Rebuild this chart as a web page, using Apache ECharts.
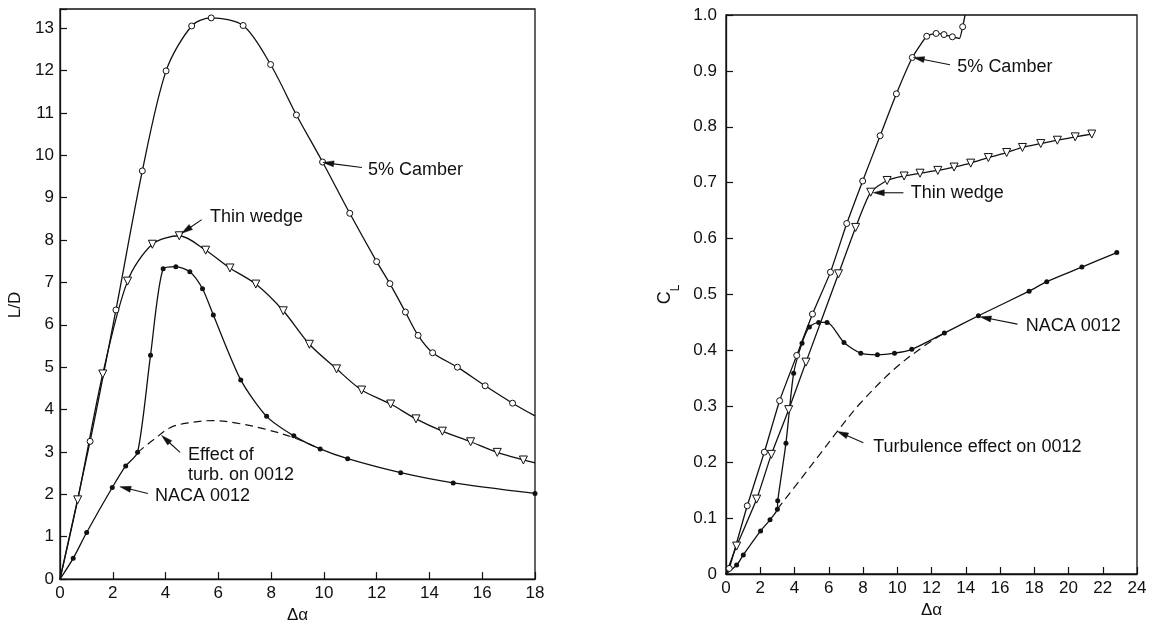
<!DOCTYPE html>
<html>
<head>
<meta charset="utf-8">
<script src="https://cdn.jsdelivr.net/npm/echarts@6/dist/echarts.min.js"></script>
<style>
html,body{margin:0;padding:0;background:#fff;}
#c{width:1155px;height:629px;}
</style>
</head>
<body>
<div id="c"></div>
<script>
// ---------- DATA ----------
// Left panel: L/D vs Δα
const ldXTicks = [0, 2, 4, 6, 8, 10, 12, 14, 16, 18];
const ldYTicks = [0, 1, 2, 3, 4, 5, 6, 7, 8, 9, 10, 11, 12, 13];
const camberLD = [[1.14,3.25],[2.12,6.35],[3.12,9.63],[4.02,11.99],[4.99,13.05],[5.73,13.24],[6.94,13.06],[7.98,12.14],[8.96,10.95],[9.95,9.84],[10.98,8.63],[12.0,7.49],[12.5,6.97],[13.09,6.30],[13.57,5.75],[14.12,5.34],[15.06,5.0],[16.11,4.56],[17.15,4.15]];
const camberLDEnds = [[0,0],[18,3.85]];
const wedgeLD = [[0.67,1.87],[1.62,4.84],[2.56,7.03],[3.5,7.9],[4.52,8.10],[5.52,7.76],[6.44,7.34],[7.42,6.96],[8.46,6.33],[9.45,5.54],[10.48,4.96],[11.43,4.46],[12.53,4.13],[13.49,3.78],[14.49,3.49],[15.56,3.24],[16.57,2.99],[17.56,2.81]];
const wedgeLDEnds = [[0,0],[18,2.74]];
const nacaLD = [[0.5,0.49],[1.01,1.10],[1.98,2.16],[2.49,2.67],[2.94,2.99],[3.43,5.28],[3.91,7.32],[4.39,7.37],[4.92,7.25],[5.4,6.85],[5.81,6.23],[6.85,4.70],[7.83,3.84],[8.86,3.38],[9.86,3.07],[10.9,2.84],[12.91,2.51],[14.9,2.27],[18.0,2.02]];
const nacaLDEnds = [[0,0]];
const turbLD = [[2.94,2.99],[3.53,3.28],[4.17,3.57],[4.8,3.68],[5.81,3.74],[6.69,3.68],[7.7,3.55],[8.84,3.34],[9.86,3.07]];

// Right panel: C_L vs Δα
const clXTicks = [0, 2, 4, 6, 8, 10, 12, 14, 16, 18, 20, 22, 24];
const clYTicks = [0, 0.1, 0.2, 0.3, 0.4, 0.5, 0.6, 0.7, 0.8, 0.9, 1.0];
const camberCL = [[0.19,0.010],[1.24,0.122],[2.24,0.218],[3.13,0.310],[4.13,0.391],[5.05,0.465],[6.1,0.54],[7.05,0.627],[7.98,0.703],[9.0,0.784],[9.95,0.859],[10.88,0.924],[11.72,0.962],[12.27,0.967],[12.73,0.965],[13.22,0.961],[13.82,0.979]];
const camberCLEnds = [[0,0],[13.63,0.958],[13.96,1.0]];
const wedgeCL = [[0.62,0.05],[1.79,0.134],[2.65,0.214],[3.66,0.294],[4.67,0.379],[6.57,0.537],[7.57,0.620],[8.45,0.683],[9.41,0.704],[10.4,0.712],[11.33,0.717],[12.37,0.722],[13.32,0.728],[14.29,0.735],[15.32,0.745],[16.39,0.754],[17.31,0.763],[18.38,0.770],[19.35,0.776],[20.39,0.782],[21.36,0.787]];
const wedgeCLEnds = [[0,0]];
const nacaCL = [[0.62,0.016],[1.01,0.034],[2.02,0.077],[2.57,0.097],[3.0,0.116],[3.02,0.131],[3.5,0.234],[3.95,0.359],[4.44,0.413],[4.87,0.442],[5.41,0.450],[5.9,0.450],[6.89,0.414],[7.87,0.395],[8.84,0.392],[9.84,0.395],[10.85,0.402],[12.75,0.431],[14.74,0.462],[17.7,0.506],[18.73,0.523],[20.78,0.549],[22.82,0.575]];
const nacaCLEnds = [[0,0]];
const turbCL = [[3.0,0.116],[4.32,0.168],[5.5,0.215],[6.5,0.255],[7.83,0.305],[9.77,0.365],[11.53,0.407],[12.75,0.431]];

// Annotation labels (anchored in data coordinates)
const annotTexts = ['5% Camber','Thin wedge','Effect of\nturb. on 0012','NACA 0012','5% Camber','Thin wedge','NACA 0012','Turbulence effect on 0012'];
const annotGrid  = [0,0,0,0,1,1,1,1];
const annotAt    = [[11.67,9.64],[5.68,8.55],[4.85,2.69],[3.6,1.97],[13.51,0.907],[10.79,0.681],[17.5,0.444],[8.6,0.228]];
const annotTail  = [[11.44,9.71],[5.37,8.48],[4.55,2.99],[3.33,2.02],[13.08,0.911],[10.36,0.682],[17.02,0.447],[8.02,0.235]];
const annotTip   = [[9.96,9.83],[4.61,8.16],[3.85,3.39],[2.27,2.18],[10.94,0.924],[8.6,0.682],[14.84,0.460],[6.5,0.255]];

// ---------- BUILD ----------
const FONT = '"Liberation Sans", Arial, Helvetica, sans-serif';
const BLACK = '#111';

function build(marked, ends) {
  const all = marked.map(p => ({ value: p })).concat(ends.map(p => ({ value: p, symbol: 'none' })));
  all.sort((a, b) => a.value[0] - b.value[0]);
  return all;
}
const openCircle = { symbol: 'circle', symbolSize: 6, itemStyle: { color: '#fff', borderColor: BLACK, borderWidth: 1 } };
const openTri = { symbol: 'triangle', symbolSize: 8, symbolRotate: 180, itemStyle: { color: '#fff', borderColor: BLACK, borderWidth: 1 } };
const dot = { symbol: 'circle', symbolSize: 5, itemStyle: { color: BLACK, borderColor: BLACK, borderWidth: 0 } };

function lineSeries(name, xi, data, mk, smooth) {
  return Object.assign({
    name, type: 'line', xAxisIndex: xi, yAxisIndex: xi, data,
    smooth: smooth, showAllSymbol: true,
    lineStyle: { color: BLACK, width: 1.3 }, z: 3,
    emphasis: { disabled: true }, silent: true
  }, mk);
}
function dashSeries(name, xi, data) {
  return {
    name, type: 'line', xAxisIndex: xi, yAxisIndex: xi, data, smooth: 0.35,
    symbol: 'none', lineStyle: { color: BLACK, width: 1.2, type: [8, 5] }, z: 2, silent: true
  };
}

function xAxis(gi, ticks, name, gap) {
  return {
    type: 'value', gridIndex: gi, min: ticks[0], max: ticks[ticks.length - 1], interval: ticks[1] - ticks[0],
    name, nameLocation: 'middle', nameGap: gap,
    nameTextStyle: { color: BLACK, fontSize: 17, fontFamily: FONT },
    axisLine: { show: true, onZero: false, lineStyle: { color: BLACK, width: 1.3 } },
    axisTick: { show: true, inside: true, length: 7, lineStyle: { color: BLACK, width: 1.2 } },
    axisLabel: { color: BLACK, fontSize: 17, fontFamily: FONT, margin: 6 },
    splitLine: { show: false }
  };
}

const option = {
  animation: false,
  backgroundColor: '#fff',
  grid: [
    { left: 60, top: 9, right: 620, bottom: 40, show: true, borderColor: BLACK, borderWidth: 1.3, backgroundColor: 'transparent' },
    { left: 726, top: 15, right: 18, bottom: 55, show: true, borderColor: BLACK, borderWidth: 1.3, backgroundColor: 'transparent' }
  ],
  xAxis: [xAxis(0, ldXTicks, 'Δα', 24), xAxis(1, clXTicks, 'Δα', 25)],
  yAxis: [
    {
      type: 'value', gridIndex: 0, min: 0, max: 13.45, interval: ldYTicks[1] - ldYTicks[0],
      name: 'L/D', nameLocation: 'middle', nameGap: 36,
      nameTextStyle: { color: BLACK, fontSize: 17, fontFamily: FONT, padding: [0, 0, 0, -22] },
      axisLine: { show: true, onZero: false, lineStyle: { color: BLACK, width: 1.3 } },
      axisTick: { show: true, inside: true, length: 7, lineStyle: { color: BLACK, width: 1.2 } },
      axisLabel: { color: BLACK, fontSize: 17, fontFamily: FONT, margin: 6,
        formatter: v => (ldYTicks.indexOf(Math.round(v * 100) / 100) >= 0 ? String(Math.round(v)) : '') },
      splitLine: { show: false }
    },
    {
      type: 'value', gridIndex: 1, min: clYTicks[0], max: clYTicks[clYTicks.length - 1], interval: 0.1,
      name: '{c|C}{l|L}', nameLocation: 'middle', nameGap: 44,
      nameTextStyle: { color: BLACK, fontFamily: FONT,
        rich: { c: { fontSize: 18, fontFamily: FONT, color: BLACK, verticalAlign: 'top', lineHeight: 18 },
                l: { fontSize: 12, fontFamily: FONT, color: BLACK, verticalAlign: 'bottom', lineHeight: 26 } } },
      axisLine: { show: true, onZero: false, lineStyle: { color: BLACK, width: 1.3 } },
      axisTick: { show: true, inside: true, length: 7, lineStyle: { color: BLACK, width: 1.2 } },
      axisLabel: { color: BLACK, fontSize: 17, fontFamily: FONT, margin: 9,
        formatter: v => (Math.abs(v) < 1e-9 ? '0' : v.toFixed(1)) },
      splitLine: { show: false }
    }
  ],
  series: [
    dashSeries('Effect of turb. on 0012', 0, turbLD),
    lineSeries('5% Camber', 0, build(camberLD, camberLDEnds), openCircle, 0.3),
    lineSeries('Thin wedge', 0, build(wedgeLD, wedgeLDEnds), openTri, 0.3),
    lineSeries('NACA 0012', 0, build(nacaLD, nacaLDEnds), dot, 0.25),
    dashSeries('Turbulence effect on 0012', 1, turbCL),
    lineSeries('5% Camber', 1, build(camberCL, camberCLEnds), openCircle, 0.15),
    lineSeries('Thin wedge', 1, build(wedgeCL, wedgeCLEnds), openTri, 0.2),
    lineSeries('NACA 0012', 1, build(nacaCL, nacaCLEnds), dot, 0.25)
  ]
};

const chart = echarts.init(document.getElementById('c'), null, { renderer: 'canvas' });
chart.setOption(option);

// ---------- annotations with arrows ----------
const elements = [];
for (let i = 0; i < annotTexts.length; i++) {
  const g = annotGrid[i];
  const at = chart.convertToPixel({ gridIndex: g }, annotAt[i]);
  const tail = chart.convertToPixel({ gridIndex: g }, annotTail[i]);
  const tip = chart.convertToPixel({ gridIndex: g }, annotTip[i]);
  const dx = tip[0] - tail[0], dy = tip[1] - tail[1];
  const len = Math.sqrt(dx * dx + dy * dy);
  const ux = dx / len, uy = dy / len, nx = -uy, ny = ux;
  const L = 11, W = 3;
  const bx = tip[0] - L * ux, by = tip[1] - L * uy;
  elements.push({
    type: 'line', silent: true, z: 10,
    shape: { x1: tail[0], y1: tail[1], x2: bx + 2 * ux, y2: by + 2 * uy },
    style: { stroke: BLACK, lineWidth: 1.1 }
  });
  elements.push({
    type: 'polygon', silent: true, z: 10,
    shape: { points: [[tip[0], tip[1]], [bx + W * nx, by + W * ny], [bx - W * nx, by - W * ny]] },
    style: { fill: BLACK, stroke: BLACK, lineWidth: 0.5 }
  });
  elements.push({
    type: 'text', silent: true, z: 10,
    style: { text: annotTexts[i], x: at[0], y: at[1], fill: BLACK,
      font: '18px ' + FONT, textAlign: 'left', textVerticalAlign: 'middle', lineHeight: 20 }
  });
}
chart.setOption({ graphic: { elements } });
</script>
</body>
</html>
